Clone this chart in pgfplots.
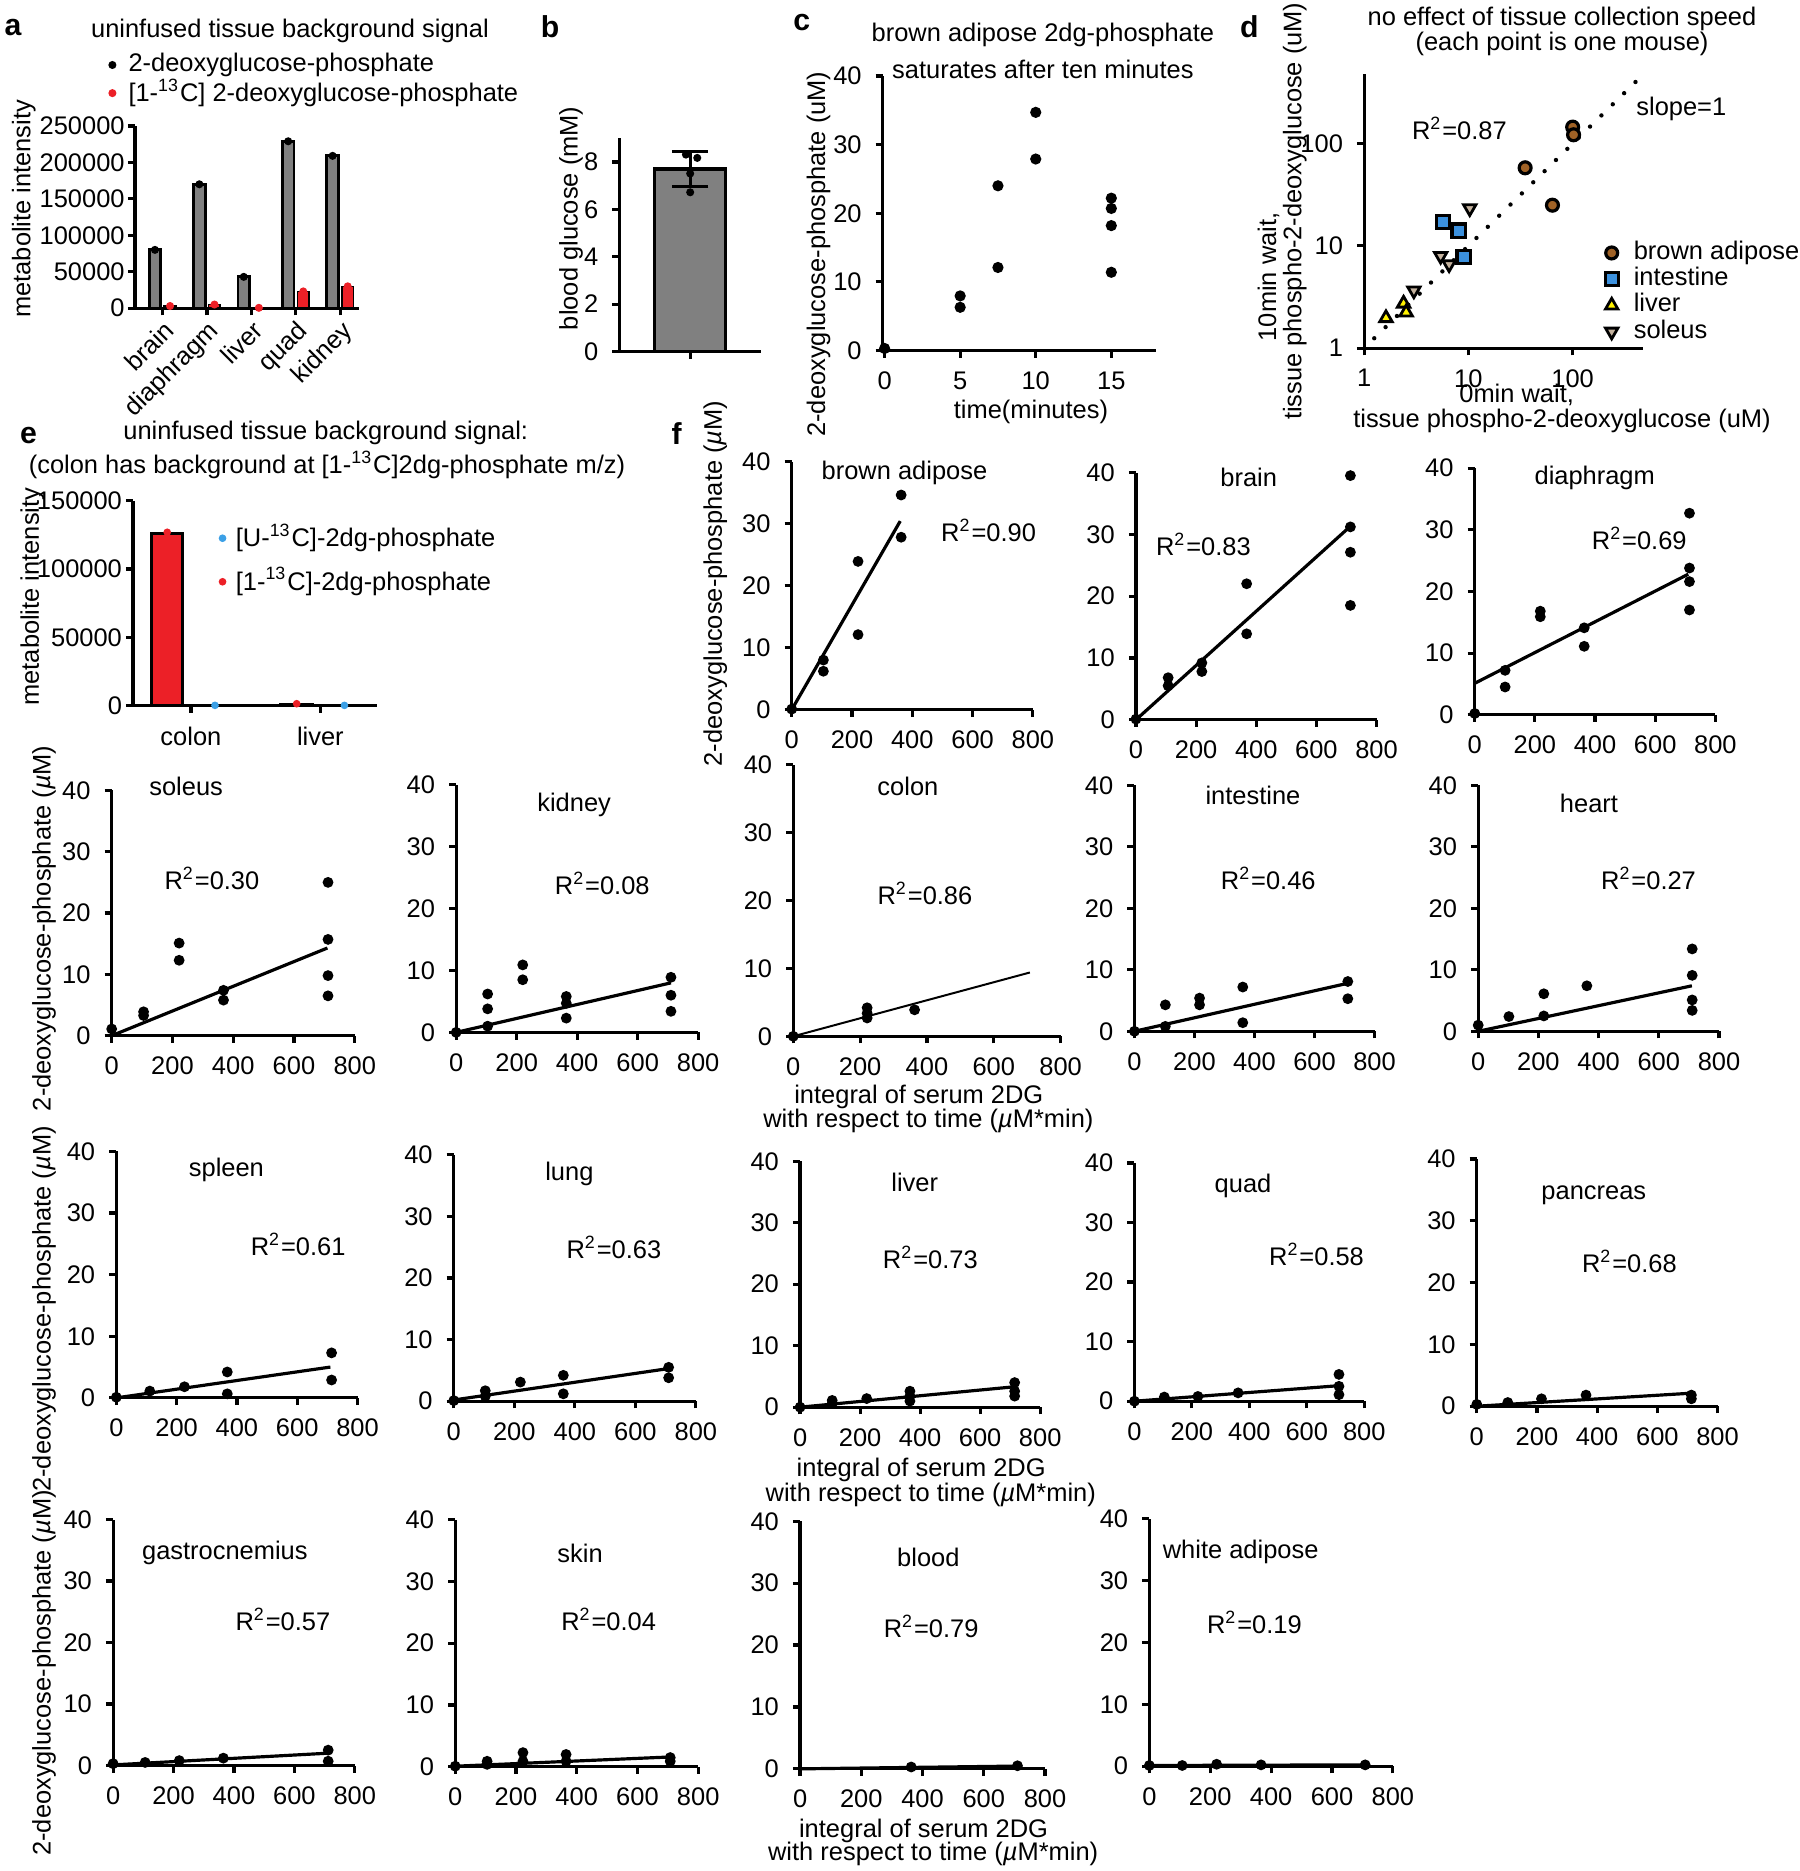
\documentclass[border=0pt]{standalone}
\usepackage{pgfplots}
\pgfplotsset{compat=1.18}
\usepackage{fontspec}
\setmainfont{Liberation Sans}
\newcommand\fs{\fontsize{6.4}{7.7}\selectfont}
\newcommand\lst{\rule[-1.35pt]{0pt}{6.05pt}}
\definecolor{myred}{RGB}{236,32,39}
\definecolor{mygray}{RGB}{128,128,128}
\definecolor{brownc}{RGB}{160,98,38}
\definecolor{bluec}{RGB}{60,145,222}
\definecolor{tanc}{RGB}{196,178,158}
\definecolor{ublue}{RGB}{60,160,230}
\pgfplotsset{
 every axis/.append style={scale only axis, axis lines=left, axis line style={-, line width=0.8pt},
   tick align=outside, major tick length=1.8pt, tick style={line width=0.8pt, black},
   tick label style={font=\fs}, /pgf/number format/assume math mode=true, clip=false, anchor=south west,
   scaled y ticks=false, scaled x ticks=false},
 fp/.style={xmin=0,xmax=800,ymin=0,ymax=40, xtick={0,200,400,600,800}, ytick={0,10,20,30,40}},
 dots/.style={only marks, mark=*, mark size=1.15pt, black, mark options={draw=black, fill=black}},
 fitl/.style={no marks, line width=0.8pt, black},
 dotleg/.style={legend image code/.code={\draw[##1] plot coordinates {(0pt,0pt)};}},
 legst/.style={anchor=north west, draw=none, fill=none, inner sep=0pt, outer sep=0pt, font=\fs, nodes={inner sep=0.2pt}},
}
\begin{document}
\begin{tikzpicture}[font=\fs]
\useasboundingbox (0,0) rectangle (452.4pt,470.4pt);

% ---------------- a
\begin{axis}[at={(33.93pt,392.91pt)}, width=56.28pt, height=45.81pt,
 xmin=-0.62, xmax=4.42, ymin=0, ymax=250000,
 xtick={0,1,2,3,4}, xticklabels={brain,diaphragm,liver,quad,kidney},
 xticklabel style={rotate=45, anchor=north east, inner sep=0.5pt},
 yticklabel style={inner sep=0.6pt},
 ytick={0,50000,100000,150000,200000,250000},
 yticklabels={0,50000,100000,150000,200000,250000},
 legend style={legst, at={(-0.115,1.4067)}, row sep=0pt, /tikz/every odd column/.append style={column sep=3.05pt}},
 legend cell align=left]
\addplot[ybar, bar width=0.26, bar shift=0pt, fill=mygray, draw=black, line width=0.7pt, forget plot] coordinates {(-0.17,80000) (0.83,170000) (1.83,43000) (2.83,229000) (3.83,209000)};
\addplot[ybar, bar width=0.26, bar shift=0pt, fill=myred, draw=black, line width=0.4pt, forget plot] coordinates {(0.17,3000) (1.17,5000) (2.17,500) (3.17,23000) (4.17,30000)};
\addplot[only marks, mark=*, mark size=0.8pt, black, dotleg] coordinates {(-0.17,80000) (0.83,170000) (1.83,43000) (2.83,229000) (3.83,209000)};
\addlegendentry{2-deoxyglucose-phosphate\lst}
\addplot[only marks, mark=*, mark size=0.8pt, myred, dotleg] coordinates {(0.17,3000) (1.17,5000) (2.17,500) (3.17,23000) (4.17,30000)};
\addlegendentry{[1-\textsuperscript{13}C] 2-deoxyglucose-phosphate\lst}
\end{axis}

% ---------------- b
\begin{axis}[at={(155.73pt,382.02pt)}, width=35.58pt, height=53.61pt,
 xmin=-1, xmax=1, ymin=0, ymax=9, xtick={0}, xticklabels={}, ytick={0,2,4,6,8}]
\addplot[ybar, bar width=1, bar shift=0pt, fill=mygray, draw=black, line width=0.8pt,
 error bars/.cd, y dir=both, y explicit, error bar style={line width=0.8pt, black},
 error mark options={rotate=90, mark size=4.6pt, line width=0.8pt, black}] coordinates {(0,7.7) +- (0,0.74)};
\addplot[dots, mark size=0.8pt] coordinates {(-0.06,8.31) (0.1,8.17) (0,7.51) (0,6.72)};
\end{axis}

% ---------------- c
\begin{axis}[at={(221.94pt,382.26pt)}, width=68.67pt, height=69.03pt,
 xmin=-0.12, xmax=17.95, ymin=0, ymax=40, xtick={0,5,10,15}, ytick={0,10,20,30,40}]
\addplot[dots, mark size=1.2pt] coordinates {(0,0.3) (5,7.96) (5,6.3) (7.5,24.0) (7.5,12.1) (10,34.7) (10,27.9) (15,22.2) (15,20.7) (15,18.2) (15,11.4)};
\end{axis}

% ---------------- d
\begin{axis}[at={(342.96pt,382.86pt)}, width=70.05pt, height=68.94pt,
 xmode=log, ymode=log, xmin=1, xmax=470, ymin=1, ymax=480,
 xtick={1,10,100}, ytick={1,10,100}, xticklabels={1,10,100}, yticklabels={1,10,100},
 xminorticks=false, yminorticks=false,
 legend style={legst, at={(0.8650,0.395)}, row sep=0pt, /tikz/every odd column/.append style={column sep=3.7pt}},
 legend cell align=left]
\addplot[forget plot, black, line width=1.1pt, line cap=round, dash pattern=on 0pt off 4pt] coordinates {(1.25,1.25) (430,430)};
\addplot[only marks, mark=*, mark size=1.5pt, mark options={fill=brownc, draw=black, line width=0.8pt}, dotleg] coordinates {(100,145) (102,122) (35,58) (64,25)};
\addlegendentry{brown adipose\lst}
\addplot[only marks, mark=square*, mark size=1.65pt, mark options={fill=bluec, draw=black, line width=0.8pt}, dotleg] coordinates {(5.75,17.2) (8.06,14.1) (9.0,7.8)};
\addlegendentry{intestine\lst}
\addplot[only marks, mark=triangle*, mark size=1.8pt, mark options={fill=yellow, draw=black, line width=0.7pt}, dotleg] coordinates {(1.62,1.97) (2.39,2.73) (2.53,2.24)};
\addlegendentry{liver\lst}
\addplot[only marks, mark=triangle*, mark size=1.8pt, mark options={rotate=180, fill=tanc, draw=black, line width=0.7pt}, dotleg] coordinates {(10.3,23.3) (5.42,7.97) (6.53,6.6) (3.0,3.66)};
\addlegendentry{soleus\lst}
\end{axis}

% ---------------- e
\begin{axis}[at={(33.45pt,292.95pt)}, width=61.35pt, height=51.6pt,
 xmin=-0.447, xmax=1.438, ymin=0, ymax=150000,
 xtick={0,1}, xticklabels={colon,liver},
 yticklabel style={inner sep=0.8pt},
 ytick={0,50000,100000,150000}, yticklabels={0,50000,100000,150000},
 legend style={legst, at={(0.3545,0.8895)}, row sep=3.4pt, /tikz/every odd column/.append style={column sep=2.4pt}},
 legend cell align=left]
\addplot[ybar, bar width=0.241, bar shift=0pt, fill=myred, draw=black, line width=0.8pt, forget plot] coordinates {(-0.183,126000) (0.817,1200)};
\addplot[ybar, bar width=0.241, bar shift=0pt, fill=ublue, draw=black, line width=0.8pt, forget plot] coordinates {(0.186,300) (1.186,300)};
\addplot[only marks, mark=*, mark size=0.75pt, ublue, dotleg] coordinates {(0.186,300) (1.186,300)};
\addlegendentry{[U-\textsuperscript{13}C]-2dg-phosphate\lst}
\addplot[only marks, mark=*, mark size=0.75pt, myred, dotleg] coordinates {(-0.183,126800) (0.817,1500)};
\addlegendentry{[1-\textsuperscript{13}C]-2dg-phosphate\lst}
\end{axis}

% ---------------- f panels
\begin{axis}[fp, at={(199.05pt,291.96pt)}, width=60.63pt, height=62.4pt]
\addplot[fitl] coordinates {(0,0) (360,30.4)};
\addplot[dots] coordinates {(0,0.1) (105,8.0) (105,6.2) (220,23.9) (220,12.1) (363,34.6) (363,27.8)};
\node at (axis cs:374,38.2) {brown adipose};
\node at (axis cs:653,28.9) {R\textsuperscript{2}=0.90};
\end{axis}

\begin{axis}[fp, at={(285.6pt,289.44pt)}, width=60.48pt, height=62.16pt]
\addplot[fitl] coordinates {(0,0) (706,31.0)};
\addplot[dots] coordinates {(0,0.1) (107,6.8) (107,5.5) (219,9.2) (219,7.8) (368,22.0) (368,13.9) (713,39.5) (713,31.2) (713,27.1) (713,18.5)};
\node at (axis cs:375,39.2) {brain};
\node at (axis cs:224,28.3) {R\textsuperscript{2}=0.83};
\end{axis}

\begin{axis}[fp, at={(370.77pt,290.7pt)}, width=60.48pt, height=61.98pt]
\addplot[fitl] coordinates {(0,5.1) (710,22.8)};
\addplot[dots] coordinates {(0,0.2) (101,7.2) (101,4.5) (218,16.8) (218,15.9) (364,14.1) (364,11.1) (714,32.7) (714,23.8) (714,21.6) (714,17.0)};
\node at (axis cs:399,38.4) {diaphragm};
\node at (axis cs:547,28.6) {R\textsuperscript{2}=0.69};
\end{axis}

\begin{axis}[fp, at={(28.08pt,210pt)}, width=61.11pt, height=61.68pt]
\addplot[fitl] coordinates {(0,0) (710,14.3)};
\addplot[dots] coordinates {(0,1.1) (105,3.9) (105,3.3) (222,15.1) (222,12.3) (368,7.4) (368,5.8) (712,25.0) (712,15.7) (712,9.8) (712,6.5)};
\node at (axis cs:245,40.6) {soleus};
\node at (axis cs:330,25.7) {R\textsuperscript{2}=0.30};
\end{axis}

\begin{axis}[fp, at={(114.69pt,210.84pt)}, width=60.84pt, height=62.25pt]
\addplot[fitl] coordinates {(0,0) (710,8.0)};
\addplot[dots] coordinates {(0,0) (104,6.2) (104,3.8) (104,1.0) (220,10.9) (220,8.5) (364,5.8) (364,4.7) (364,2.3) (710,8.9) (710,6.0) (710,3.4)};
\node at (axis cs:390,36.8) {kidney};
\node at (axis cs:483,24.1) {R\textsuperscript{2}=0.08};
\end{axis}

\begin{axis}[fp, at={(199.44pt,209.85pt)}, width=67.23pt, height=68.28pt]
\addplot[fitl, line width=0.5pt] coordinates {(0,0) (708,9.4)};
\addplot[dots] coordinates {(0,0) (221,4.2) (221,3.4) (221,2.7) (363,3.9)};
\node at (axis cs:343,36.8) {colon};
\node at (axis cs:394,21.1) {R\textsuperscript{2}=0.86};
\end{axis}

\begin{axis}[fp, at={(285.21pt,211.11pt)}, width=60.36pt, height=61.83pt]
\addplot[fitl] coordinates {(0,0) (710,7.8)};
\addplot[dots] coordinates {(0,0) (103,4.3) (103,0.8) (217,5.4) (217,4.3) (361,7.2) (361,1.4) (711,8.1) (711,5.3)};
\node at (axis cs:395,38.3) {intestine};
\node at (axis cs:446,24.9) {R\textsuperscript{2}=0.46};
\end{axis}

\begin{axis}[fp, at={(371.64pt,211.11pt)}, width=60.54pt, height=61.83pt]
\addplot[fitl] coordinates {(0,0) (710,7.4)};
\addplot[dots] coordinates {(0,1.0) (102,2.4) (218,6.1) (218,2.5) (361,7.4) (711,13.4) (711,9.1) (711,5.1) (711,3.4)};
\node at (axis cs:368,37.0) {heart};
\node at (axis cs:566,24.9) {R\textsuperscript{2}=0.27};
\end{axis}

\begin{axis}[fp, at={(29.25pt,118.95pt)}, width=60.63pt, height=61.98pt]
\addplot[fitl] coordinates {(0,0) (710,5.0)};
\addplot[dots] coordinates {(0,0.1) (111,1.1) (226,1.8) (368,4.2) (368,0.65) (714,7.3) (714,2.9)};
\node at (axis cs:365,37.0) {spleen};
\node at (axis cs:603,24.9) {R\textsuperscript{2}=0.61};
\end{axis}

\begin{axis}[fp, at={(114.09pt,118.11pt)}, width=60.87pt, height=61.98pt]
\addplot[fitl] coordinates {(0,0.2) (710,5.3)};
\addplot[dots] coordinates {(0,0.1) (104,1.7) (104,0.8) (220,3.1) (362,4.2) (362,1.2) (710,5.5) (710,3.8)};
\node at (axis cs:382,36.8) {lung};
\node at (axis cs:529,24.9) {R\textsuperscript{2}=0.63};
\end{axis}

\begin{axis}[fp, at={(201.15pt,116.61pt)}, width=60.36pt, height=61.83pt]
\addplot[fitl] coordinates {(0,0) (710,3.3)};
\addplot[dots] coordinates {(0,0) (107,1.1) (107,0.6) (222,1.4) (366,2.6) (366,1.8) (366,1.0) (715,4.0) (715,2.6) (715,1.8)};
\node at (axis cs:382,36.5) {liver};
\node at (axis cs:434,24.3) {R\textsuperscript{2}=0.73};
\end{axis}

\begin{axis}[fp, at={(285.21pt,118.11pt)}, width=57.78pt, height=59.91pt]
\addplot[fitl] coordinates {(0,0) (710,2.6)};
\addplot[dots] coordinates {(0,0) (104,0.7) (221,0.8) (361,1.4) (712,4.5) (712,2.5) (712,1.1)};
\node at (axis cs:378,36.1) {quad};
\node at (axis cs:634,24.6) {R\textsuperscript{2}=0.58};
\end{axis}

\begin{axis}[fp, at={(371.28pt,116.85pt)}, width=60.54pt, height=62.16pt]
\addplot[fitl] coordinates {(0,0) (710,2.1)};
\addplot[dots] coordinates {(0,0.3) (103,0.6) (215,1.2) (363,1.8) (713,1.8) (713,1.2)};
\node at (axis cs:389,34.2) {pancreas};
\node at (axis cs:507,23.5) {R\textsuperscript{2}=0.68};
\end{axis}

\begin{axis}[fp, at={(28.44pt,26.52pt)}, width=60.75pt, height=61.83pt]
\addplot[fitl] coordinates {(0,0.1) (710,2.0)};
\addplot[dots] coordinates {(0,0.3) (106,0.5) (219,0.8) (365,1.2) (712,2.5) (712,0.7)};
\node at (axis cs:370,34.6) {gastrocnemius};
\node at (axis cs:562,23.7) {R\textsuperscript{2}=0.57};
\end{axis}

\begin{axis}[fp, at={(114.45pt,26.19pt)}, width=61.08pt, height=62.16pt]
\addplot[fitl] coordinates {(0,0.1) (710,1.6)};
\addplot[dots] coordinates {(0,0.1) (105,0.9) (105,0.4) (223,2.3) (223,0.9) (365,2.0) (365,0.9) (708,1.5) (708,0.9)};
\node at (axis cs:411,34.6) {skin};
\node at (axis cs:505,23.8) {R\textsuperscript{2}=0.04};
\end{axis}

\begin{axis}[fp, at={(201.15pt,25.68pt)}, width=61.59pt, height=62.25pt]
\addplot[fitl] coordinates {(0,0) (710,0.45)};
\addplot[dots] coordinates {(363,0.3) (710,0.5)};
\node at (axis cs:419,34.1) {blood};
\node at (axis cs:428,23.0) {R\textsuperscript{2}=0.79};
\end{axis}

\begin{axis}[fp, at={(288.96pt,26.37pt)}, width=61.23pt, height=62.16pt]
\addplot[fitl] coordinates {(0,0.1) (710,0.2)};
\addplot[dots] coordinates {(0,0.1) (108,0.1) (221,0.3) (367,0.2) (709,0.2)};
\node at (axis cs:300,34.7) {white adipose};
\node at (axis cs:345,23.3) {R\textsuperscript{2}=0.19};
\end{axis}

% ---------------- free text, in reference pixel units (1508 x 1568 frame)
\begin{scope}[x=0.3pt, y=-0.3pt, shift={(0pt,470.4pt)}]
\begin{scope}[font=\fontsize{7.6}{9}\selectfont\bfseries]
\node at (11,23) {a};
\node at (461,22) {b};
\node at (672,19) {c};
\node at (1047,22) {d};
\node at (24,365) {e};
\node at (567,363) {f};
\end{scope}
% a
\node at (243,26) {uninfused tissue background signal};
\node[rotate=90] at (20,175) {metabolite intensity};
% b
\node[rotate=90] at (478.5,183) {blood glucose (mM)};
% c
\node at (874,29) {brown adipose 2dg-phosphate};
\node at (874,58) {saturates after ten minutes};
\node[rotate=90] at (686,213) {2-deoxyglucose-phosphate (uM)};
\node at (864,345) {time(minutes)};
% d
\node at (1309,16) {no effect of tissue collection speed};
\node at (1309,36.5) {(each point is one mouse)};
\node[rotate=90] at (1063,232) {10min wait,};
\node[rotate=90] at (1085,177) {tissue phospho-2-deoxyglucose (uM)};
\node at (1271,331) {0min wait,};
\node at (1309,353) {tissue phospho-2-deoxyglucose (uM)};
\node at (1223,107.5) {R\textsuperscript{2}=0.87};
\node at (1409,91) {slope=1};
% e
\node at (273,363) {uninfused tissue background signal:};
\node at (274,389.6) {(colon has background at [1-\textsuperscript{13}C]2dg-phosphate m/z)};
\node[rotate=90] at (27,500) {metabolite intensity};
% f
\node[rotate=90] at (599.5,489) {2-deoxyglucose-phosphate (\textit{µ}M)};
\node[rotate=90] at (37,778) {2-deoxyglucose-phosphate (\textit{µ}M)};
\node[rotate=90] at (37,1097) {2-deoxyglucose-phosphate (\textit{µ}M)};
\node[rotate=90] at (37,1402) {2-deoxyglucose-phosphate (\textit{µ}M)};
\node at (770,919) {integral of serum 2DG};
\node at (778,939.5) {with respect to time (\textit{µ}M*min)};
\node at (772,1232) {integral of serum 2DG};
\node at (780,1252.5) {with respect to time (\textit{µ}M*min)};
\node at (774,1534) {integral of serum 2DG};
\node at (782,1553.5) {with respect to time (\textit{µ}M*min)};
\end{scope}
\end{tikzpicture}
\end{document}
